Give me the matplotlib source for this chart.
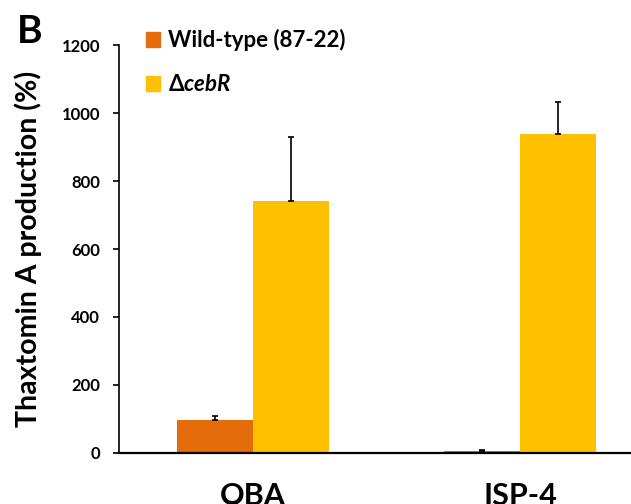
import numpy as np
import matplotlib
matplotlib.use('Agg')
import matplotlib.pyplot as plt
from matplotlib.patches import Patch

# data
media = ['OBA', 'ISP-4']
strains = ['Wild-type (87-22)', r'$\Delta\mathbfit{cebR}$']
wild_type = [96, 5]
wild_type_err = [11, 3]
ceb_r = [741, 940]
ceb_r_err = [190, 93]
colors = ['#E46C0A', '#FFC000']
yticks = [0, 200, 400, 600, 800, 1000, 1200]

plt.rcParams['font.family'] = ['Lato', 'DejaVu Sans']
plt.rcParams['font.weight'] = 'bold'
plt.rcParams['mathtext.fontset'] = 'custom'
plt.rcParams['mathtext.rm'] = 'Lato:bold'
plt.rcParams['mathtext.bf'] = 'Lato:bold'
plt.rcParams['mathtext.bfit'] = 'Lato:bold:italic'
plt.rcParams['mathtext.it'] = 'Lato:bold:italic'

fig = plt.figure(figsize=(6.31, 5.04), dpi=100)
ax = fig.add_axes([0.1886, 0.1018, 0.8114, 0.8083])

x = np.arange(len(media))
w = 0.285
err_style = dict(elinewidth=1.2, capsize=2.5, capthick=1.2, ecolor='black')
ax.bar(x - w / 2, wild_type, w, color=colors[0],
       yerr=[np.zeros(len(media)), wild_type_err], error_kw=err_style)
ax.bar(x + w / 2, ceb_r, w, color=colors[1],
       yerr=[np.zeros(len(media)), ceb_r_err], error_kw=err_style)

ax.set_xlim(-0.502, 1.416)
ax.set_ylim(0, 1200)
ax.set_yticks(yticks)
ax.set_yticklabels([str(v) for v in yticks], fontsize=12, fontweight='bold')
ax.set_xticks(x)
ax.set_xticklabels(media, fontsize=22, fontweight='bold')
ax.tick_params(axis='x', length=0, pad=21)
ax.tick_params(axis='y', direction='out', length=4.5, width=1.2, pad=9)

for side in ['top', 'right']:
    ax.spines[side].set_visible(False)
ax.spines['left'].set_linewidth(1.2)
ax.spines['bottom'].set_linewidth(1.6)

ax.set_ylabel('Thaxtomin A production (%)', fontsize=20.5, fontweight='bold')
ax.yaxis.set_label_coords(-0.150, 0.5)

handles = [Patch(color=c) for c in colors]
fig.legend(handles, strains, loc='upper left', bbox_to_anchor=(146 / 631, 1 - 29 / 504),
           frameon=False, fontsize=16, handlelength=0.63, handleheight=0.63,
           handletextpad=0.35, labelspacing=1.05, borderpad=0, borderaxespad=0)

fig.text(17 / 631, 1 - 14 / 504, 'B', fontsize=28, fontweight='bold', va='top', ha='left')

fig.savefig('out.png', dpi=100)
